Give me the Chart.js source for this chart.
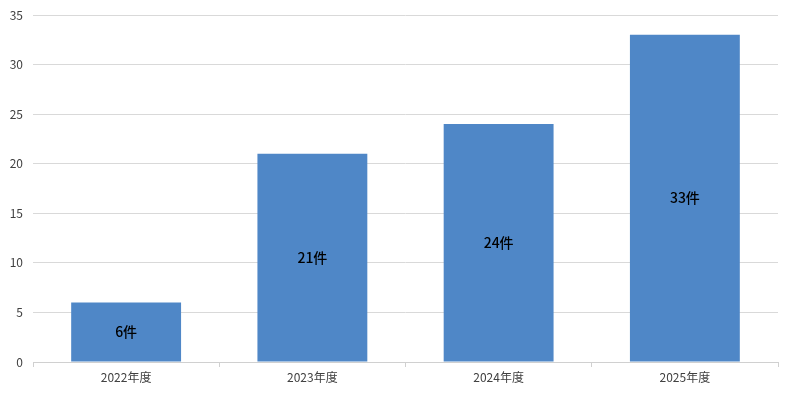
<!DOCTYPE html>
<html><head><meta charset="utf-8">
<script src="https://cdn.jsdelivr.net/npm/chart.js@4"></script>
<style>html,body{margin:0;padding:0;background:#fff}#w{width:788px;height:394px}</style>
</head><body><div id="w"><canvas id="c" width="788" height="394"></canvas></div>
<script>
const categories = ["2022年度","2023年度","2024年度","2025年度"];
const counts = [6, 21, 24, 33];
const labelSuffix = "件";
const yTicks = [0,5,10,15,20,25,30,35];

const FONT = '"Noto Sans CJK JP", "Noto Sans", sans-serif';

const barLabels = {
  id: 'barLabels',
  afterDatasetsDraw(chart) {
    const ctx = chart.ctx;
    const meta = chart.getDatasetMeta(0);
    ctx.save();
    ctx.font = '500 14px ' + FONT;
    ctx.fillStyle = '#000';
    ctx.textAlign = 'center';
    ctx.textBaseline = 'middle';
    meta.data.forEach((el, i) => {
      const p = el.getProps(['x','y','base'], true);
      ctx.fillText(counts[i] + labelSuffix, p.x, (p.y + p.base) / 2);
    });
    ctx.restore();
  }
};

new Chart(document.getElementById('c'), {
  type: 'bar',
  data: { labels: categories, datasets: [{ data: counts, backgroundColor: '#4f87c7', borderWidth: 0, categoryPercentage: 1, barPercentage: 0.59 }] },
  options: {
    responsive: false, animation: false, maintainAspectRatio: false,
    layout: { padding: { top: 15, right: 10, left: 0, bottom: 0 } },
    plugins: { legend: { display: false }, tooltip: { enabled: false } },
    scales: {
      x: {
        grid: { display: true, offset: true, drawOnChartArea: false, drawTicks: true, tickLength: 5, color: '#d0d0d0' },
        border: { display: true, color: '#d0d0d0' },
        ticks: { font: { size: 12, family: FONT }, color: '#404040', padding: 3 },
        afterFit(s) { s.height = 32; s.paddingLeft = 0; s.paddingRight = 0; }
      },
      y: {
        min: 0, max: 35,
        afterBuildTicks(s) { s.ticks = yTicks.map(v => ({ value: v })); },
        grid: { color: '#d9d9d9', drawTicks: false },
        border: { display: false },
        ticks: { font: { size: 12, family: FONT }, color: '#404040', padding: 10 },
        afterFit(s) { s.width = 33; s.paddingTop = 0; s.paddingBottom = 0; }
      }
    }
  },
  plugins: [barLabels]
});
</script></body></html>
